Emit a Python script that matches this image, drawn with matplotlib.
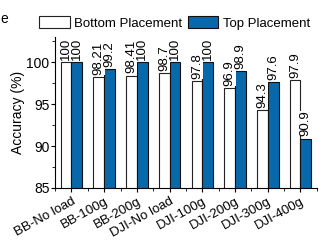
import numpy as np
import matplotlib.pyplot as plt
import matplotlib.transforms as mtransforms
from matplotlib.ticker import MultipleLocator

plt.rcParams['font.family'] = ['Liberation Sans', 'DejaVu Sans']

categories = ['BB-No load', 'BB-100g', 'BB-200g', 'DJI-No load',
              'DJI-100g', 'DJI-200g', 'DJI-300g', 'DJI-400g']
bottom_vals = [100, 98.21, 98.41, 98.7, 97.8, 96.9, 94.3, 97.9]
top_vals = [100, 99.2, 100, 100, 100, 98.9, 97.6, 90.9]
bottom_txt = ['100', '98.21', '98.41', '98.7', '97.8', '96.9', '94.3', '97.9']
top_txt = ['100', '99.2', '100', '100', '100', '98.9', '97.6', '90.9']

fig = plt.figure(figsize=(3.3, 2.41), dpi=100)
ax = fig.add_axes([0.167, 0.22, 0.793, 0.626])

x = np.arange(len(categories))
w = 0.33
ax.bar(x - w / 2, bottom_vals, w, color='white', edgecolor='#222222',
       linewidth=0.8, label='Bottom Placement')
ax.bar(x + w / 2, top_vals, w, color='#0868ac', edgecolor='#111111',
       linewidth=0.8, label='Top Placement')

for xi, v, t in zip(x - w / 2, bottom_vals, bottom_txt):
    ax.text(xi, v + 0.25, t, rotation=90, ha='center', va='bottom', fontsize=9.5,
            bbox=dict(facecolor='white', edgecolor='none', pad=0))
for xi, v, t in zip(x + w / 2, top_vals, top_txt):
    ax.text(xi, v + 0.25, t, rotation=90, ha='center', va='bottom', fontsize=9.5,
            bbox=dict(facecolor='white', edgecolor='none', pad=0))

ax.set_xlim(-0.5, 7.5)
ax.set_ylim(85, 103)
ax.set_yticks([85, 90, 95, 100])
ax.yaxis.set_minor_locator(MultipleLocator(2.5))
ax.set_xticks(x)
ax.xaxis.set_minor_locator(MultipleLocator(0.5))
ax.set_xticklabels(categories, rotation=29, ha='right', rotation_mode='anchor',
                   fontsize=9.5)
# labels sit a little right of and below their ticks
shift = mtransforms.ScaledTranslation(0.06, -0.08, fig.dpi_scale_trans)
for lab in ax.get_xticklabels():
    lab.set_transform(lab.get_transform() + shift)
ax.tick_params(axis='y', labelsize=10, length=3, pad=1)
ax.tick_params(axis='x', length=3, pad=2)
ax.tick_params(which='minor', length=2)
ax.set_ylabel('Accuracy (%)', fontsize=10, labelpad=1)

ax.spines['top'].set_visible(False)
ax.spines['right'].set_visible(False)

ax.legend(loc='lower left', bbox_to_anchor=(-0.06, 1.05), ncol=2, frameon=False,
          fontsize=9.5, handlelength=2.3, handleheight=1.1, handletextpad=0.35,
          columnspacing=0.4, borderaxespad=0, borderpad=0)

fig.text(0.0, 0.92, 'e', fontsize=10, va='center')

fig.savefig('out.png', dpi=100)
